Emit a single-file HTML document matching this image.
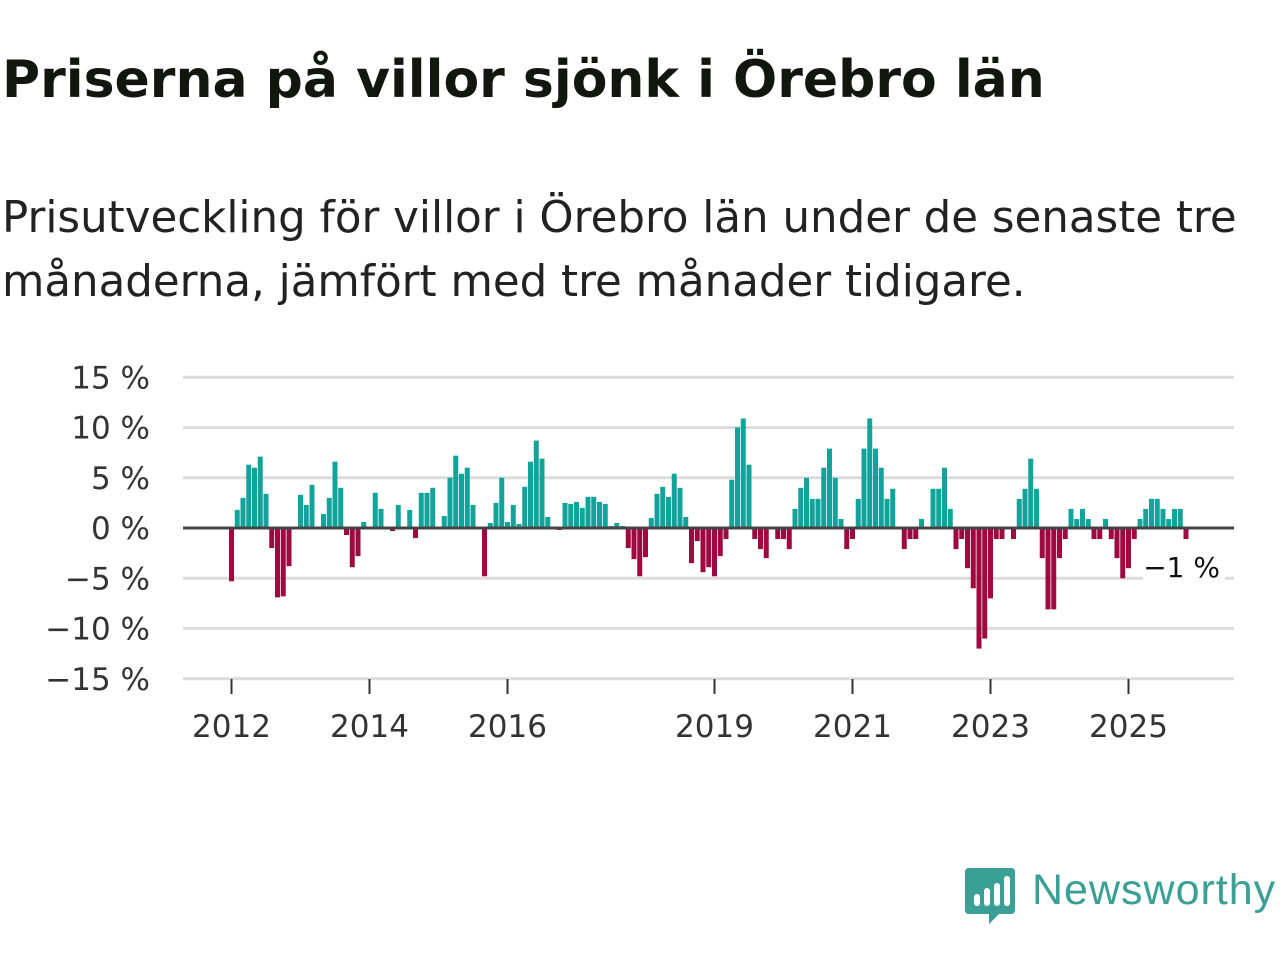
<!DOCTYPE html>
<html><head><meta charset="utf-8">
<style>
body{margin:0;background:#fff;width:1280px;height:960px;overflow:hidden;font-family:"DejaVu Sans","Liberation Sans",sans-serif;}
#title{position:absolute;left:2px;top:50px;font-size:52px;font-weight:bold;color:#13160f;margin:0;white-space:nowrap}
#sub{position:absolute;left:2px;top:186px;font-size:43.5px;color:#222;line-height:64px;margin:0;white-space:nowrap}
svg{position:absolute;left:0;top:0}
</style></head><body>
<h1 id="title">Priserna på villor sjönk i Örebro län</h1>
<p id="sub">Prisutveckling för villor i Örebro län under de senaste tre<br>månaderna, jämfört med tre månader tidigare.</p>
<svg id="chart" width="1280" height="960"></svg>
<script>
const values=[-5.3,1.8,3.0,6.3,6.0,7.1,3.4,-2.0,-6.9,-6.8,-3.8,0,
3.3,2.3,4.3,0,1.4,3.0,6.6,4.0,-0.7,-3.9,-2.8,0.6,
0,3.5,1.9,0,-0.3,2.3,0,1.8,-1.0,3.5,3.5,4.0,
0,1.2,5.0,7.2,5.4,6.0,2.3,0.1,-4.8,0.5,2.5,5.0,
0.6,2.3,0.4,4.1,6.6,8.7,6.9,1.1,0,-0.2,2.5,2.4,
2.6,2.0,3.1,3.1,2.6,2.4,0.2,0.5,0.2,-2.0,-3.1,-4.8,
-2.9,1.0,3.4,4.1,3.1,5.4,4.0,1.1,-3.5,-1.3,-4.4,-3.9,
-4.8,-2.8,-1.1,4.8,10.0,10.9,6.3,-1.1,-2.1,-3.0,0,-1.1,
-1.1,-2.1,1.9,4.0,5.0,2.9,2.9,6.0,7.9,5.0,0.9,-2.1,
-1.1,2.9,7.9,10.9,7.9,6.0,2.9,3.9,0,-2.1,-1.1,-1.1,
0.9,0,3.9,3.9,6.0,1.9,-2.1,-1.1,-4.0,-6.0,-12.0,-11.0,
-7.0,-1.1,-1.1,0,-1.1,2.9,3.9,6.9,3.9,-3.0,-8.1,-8.1,
-3.0,-1.1,1.9,0.9,1.9,0.9,-1.1,-1.1,0.9,-1.1,-3.0,-5.0,
-4.0,-1.1,0.9,1.9,2.9,2.9,1.9,0.9,1.9,1.9,-1.1];
const startYear=2012;
const yTicks=[15,10,5,0,-5,-10,-15];
const yTickLabels=["15 %","10 %","5 %","0 %","−5 %","−10 %","−15 %"];
const xTickYears=[2012,2014,2016,2019,2021,2023,2025];
const lastLabel="−1 %";

const NS="http://www.w3.org/2000/svg";
const svg=document.getElementById('chart');
const X0=231.5, PX_PER_MONTH=69/12, Y0=528, PX_PER_PCT=10.05;
const FONT='DejaVu Sans, Liberation Sans, sans-serif';
const xs=i=>X0+i*PX_PER_MONTH;
const ys=v=>Y0-v*PX_PER_PCT;
function mk(t,a){const e=document.createElementNS(NS,t);for(const k in a)e.setAttribute(k,a[k]);svg.appendChild(e);return e;}

yTicks.forEach((v,i)=>{
  if(v!==0){const g=mk('line',{x1:183,x2:1234,y1:ys(v),y2:ys(v),stroke:'#dcdcdc','stroke-width':3});
  
  }
  const t=mk('text',{x:150,y:ys(v)+11,'text-anchor':'end','font-size':31,fill:'#333','font-family':FONT});
  t.textContent=yTickLabels[i];
  
  
});
values.forEach((v,i)=>{
  if(v===0)return;
  const y=ys(Math.max(v,0)), h=Math.abs(ys(v)-Y0);
  const r=mk('rect',{x:xs(i)-2.5,y:y,width:5,height:h,fill:v>0?'#12a39a':'#9e0a3e'});
  
  
});
const z=mk('line',{x1:183,x2:1234,y1:Y0,y2:Y0,stroke:'#444','stroke-width':3});


const ax=mk('line',{x1:183,x2:1234,y1:679,y2:679,stroke:'#ddd','stroke-width':1});


xTickYears.forEach(yr=>{
  const x=xs((yr-startYear)*12);
  const tk=mk('line',{x1:x,x2:x,y1:679,y2:694,stroke:'#333','stroke-width':2});
  
  
  const t=mk('text',{x:x,y:737,'text-anchor':'middle','font-size':31,fill:'#333','font-family':FONT});
  t.textContent=yr;
  
  
});
const bg=mk('rect',{x:1143,y:545,width:82,height:40,fill:'#fff'});


const lt=mk('text',{x:1220,y:577,'text-anchor':'end','font-size':28,fill:'#111','font-family':FONT});
lt.textContent=lastLabel;


</script>
<div style="position:absolute;left:965px;top:866px;width:315px;height:60px;">
<svg width="52" height="60" style="position:absolute;left:0;top:0">
<path d="M4 2 H46 Q50 2 50 6 V44 Q50 48 46 48 H34 L24 58 L24 48 H4 Q0 48 0 44 V6 Q0 2 4 2Z" fill="#3aa095"/>
<rect x="9" y="28" width="6" height="12" rx="3" fill="#fff"/><rect x="19" y="22" width="6" height="18" rx="3" fill="#fff"/><rect x="29" y="17" width="6" height="23" rx="3" fill="#fff"/><rect x="39" y="10" width="6" height="30" rx="3" fill="#fff"/>
</svg>
<span style="position:absolute;left:67px;top:0px;font-size:43px;color:#3aa095;font-family:'Liberation Sans',sans-serif;letter-spacing:1px">Newsworthy</span>
</div>
</body></html>
